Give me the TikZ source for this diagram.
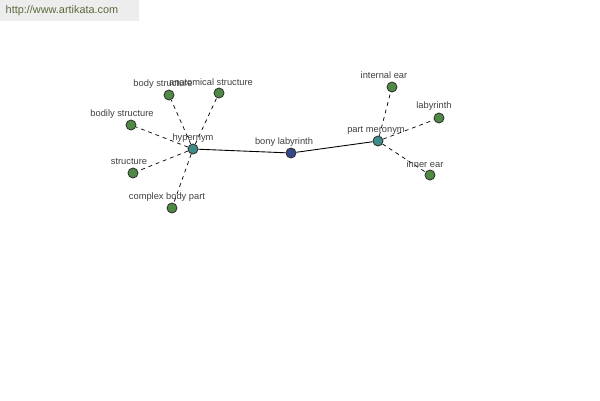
\documentclass[tikz,border=0pt]{standalone}
\usepackage{fontspec}
\setmainfont{Liberation Sans}
\usepackage{tikz}
\usetikzlibrary{positioning}
\definecolor{leafgreen}{HTML}{4F8A45}
\definecolor{hubteal}{HTML}{3E8C8A}
\definecolor{rootblue}{HTML}{36478C}
\definecolor{urlgreen}{HTML}{5A6B3A}
\tikzstyle{dot} = [circle,draw=black!80,line width=0.5pt,inner sep=0pt,minimum size=0.2cm]
\tikzstyle{leaf} = [dot,fill=leafgreen]
\tikzstyle{hub} = [dot,fill=hubteal]
\tikzstyle{rel} = [dashed,dash pattern=on 2.2pt off 2.2pt,line width=0.4pt]
\tikzstyle{lbl} = [inner sep=1pt,font=\fontsize{5.3}{6}\selectfont,text=black!75]
\tikzset{>=latex}

\begin{document}
\begin{tikzpicture}[x=0.02cm,y=-0.02cm]
    \useasboundingbox (0,0) rectangle (600,400);
    \fill [black!7] (0,0) rectangle (139,21);
    \node [lbl,text=urlgreen,font=\fontsize{6.2}{7}\selectfont] (url) at (62,11) {http://www.artikata.com};
    % centre and relations
    \node [dot,fill=rootblue] (bony) at (291,153) {};
    \node [hub] (hyper) at (193,149) {};
    \node [hub] (mero) at (378,141) {};
    \draw [line width=0.5pt] (hyper) -- (bony) -- (mero);
    % hypernyms
    \node [leaf] (bodystr) at (169,95) {};
    \node [leaf] (anat) at (219,93) {};
    \node [leaf] (bodily) at (131,125) {};
    \node [leaf] (struct) at (133,173) {};
    \node [leaf] (complex) at (172,208) {};
    \foreach \n in {bodystr,anat,bodily,struct,complex}
      \draw [rel] (hyper) -- (\n);
    % meronyms
    \node [leaf] (internal) at (392,87) {};
    \node [leaf] (laby) at (439,118) {};
    \node [leaf] (inner) at (430,175) {};
    \foreach \n in {internal,laby,inner}
      \draw [rel] (mero) -- (\n);
    % labels
    \node [lbl] at (163,84) {body structure};
    \node [lbl] at (211,82) {anatomical structure};
    \node [lbl] at (122,114) {bodily structure};
    \node [lbl] at (129,162) {structure};
    \node [lbl] at (167,197) {complex body part};
    \node [lbl] at (193,138) {hypernym};
    \node [lbl] at (284,142) {bony labyrinth};
    \node [lbl] at (376,130) {part meronym};
    \node [lbl] at (384,75) {internal ear};
    \node [lbl] at (434,106) {labyrinth};
    \node [lbl] at (425,164) {inner ear};
\end{tikzpicture}
\end{document}
